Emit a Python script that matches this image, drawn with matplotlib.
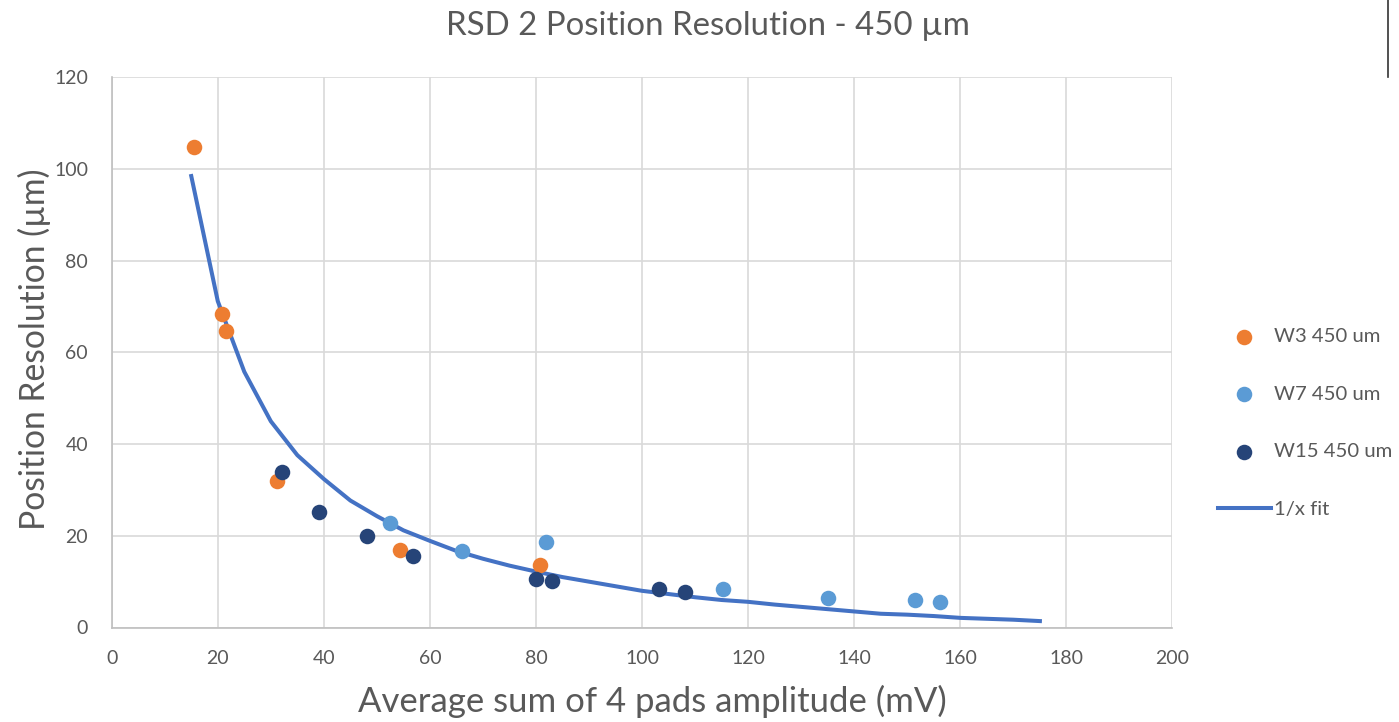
import matplotlib
matplotlib.use("Agg")
import matplotlib.pyplot as plt
from matplotlib.lines import Line2D

# measured data
w3_x = [15.6, 20.75, 21.6, 31.1, 54.4, 80.7]
w3_y = [104.9, 68.5, 64.8, 31.9, 16.9, 13.7]

w7_x = [52.5, 66.0, 81.9, 115.3, 135.0, 151.4, 156.1]
w7_y = [22.8, 16.6, 18.6, 8.4, 6.4, 5.9, 5.6]

w15_x = [32.1, 39.1, 48.1, 56.9, 80.0, 83.1, 103.1, 108.0]
w15_y = [33.9, 25.2, 20.0, 15.5, 10.6, 10.2, 8.35, 7.8]

# 1/x fit curve as drawn (sampled every 5 mV)
fit_x = [15, 20, 25, 30, 35, 40, 45, 50, 55, 60, 65, 70, 75, 80, 85, 90, 95,
         100, 105, 110, 115, 120, 125, 130, 135, 140, 145, 150, 155, 160, 165,
         170, 175]
fit_y = [98.5, 71.2, 55.8, 45.0, 37.6, 32.4, 27.7, 24.3, 21.2, 18.9, 16.7,
         15.0, 13.5, 12.2, 11.0, 10.0, 9.0, 8.0, 7.3, 6.6, 6.0, 5.6, 5.0, 4.5,
         4.0, 3.5, 3.0, 2.8, 2.5, 2.1, 1.9, 1.7, 1.4]

x_ticks = [0, 20, 40, 60, 80, 100, 120, 140, 160, 180, 200]
y_ticks = [0, 20, 40, 60, 80, 100, 120]

txt = '#595959'
plt.rcParams['font.family'] = ['Lato', 'DejaVu Sans']

W, H = 1399, 722
fig = plt.figure(figsize=(W / 100, H / 100), dpi=100)
ax = fig.add_axes([111.7 / W, 1 - 627.5 / H, (1172.5 - 111.7) / W, (627.5 - 77.5) / H])

ax.plot(fit_x, fit_y, color='#4472C4', lw=2.9, zorder=2, label='1/x fit')
ms = 125
ax.scatter(w3_x, w3_y, s=ms, color='#ED7D31', lw=0, zorder=3, label='W3 450 um')
ax.scatter(w7_x, w7_y, s=ms, color='#5B9BD5', lw=0, zorder=3, label='W7 450 um')
ax.scatter(w15_x, w15_y, s=ms, color='#264478', lw=0, zorder=4, label='W15 450 um')

ax.set_xlim(0, 200)
ax.set_ylim(0, 120)
ax.set_xticks(x_ticks)
ax.set_yticks(y_ticks)
ax.grid(True, color='#D9D9D9', lw=1.2, zorder=0)
ax.set_axisbelow(True)
for s in ['top', 'right']:
    ax.spines[s].set_visible(False)
for s in ['left', 'bottom']:
    ax.spines[s].set_color('#BFBFBF')
    ax.spines[s].set_linewidth(1.2)
ax.tick_params(length=0, labelsize=14, labelcolor=txt)
ax.tick_params(axis='y', pad=17)
ax.tick_params(axis='x', pad=16)

ax.set_xlabel('Average sum of 4 pads amplitude (mV)', fontsize=25, color=txt)
ax.xaxis.set_label_coords(0.51, -0.105)
ax.set_ylabel('Position Resolution (µm)', fontsize=24.2, color=txt)
ax.yaxis.set_label_coords(-0.057, 0.505)

fig.text(708 / W, 1 - 35 / H, 'RSD 2 Position Resolution - 450 µm', fontsize=23.8,
         color=txt, ha='center', va='baseline')

h, l = ax.get_legend_handles_labels()
order = [1, 2, 3, 0]
leg = fig.legend([h[i] for i in order], [l[i] for i in order], loc='center left',
                 bbox_to_anchor=(1218 / W, 1 - 423 / H), frameon=False,
                 fontsize=14.6, labelspacing=2.0, handlelength=2.6,
                 handletextpad=0.15, borderpad=0, borderaxespad=0)
for t in leg.get_texts():
    t.set_color(txt)

# stray border line at the top right of the screenshot
fig.add_artist(Line2D([1388 / W, 1388 / W], [1.0, 1 - 77 / H], color='#333333', lw=1.2))

fig.savefig('out.png', dpi=100)
